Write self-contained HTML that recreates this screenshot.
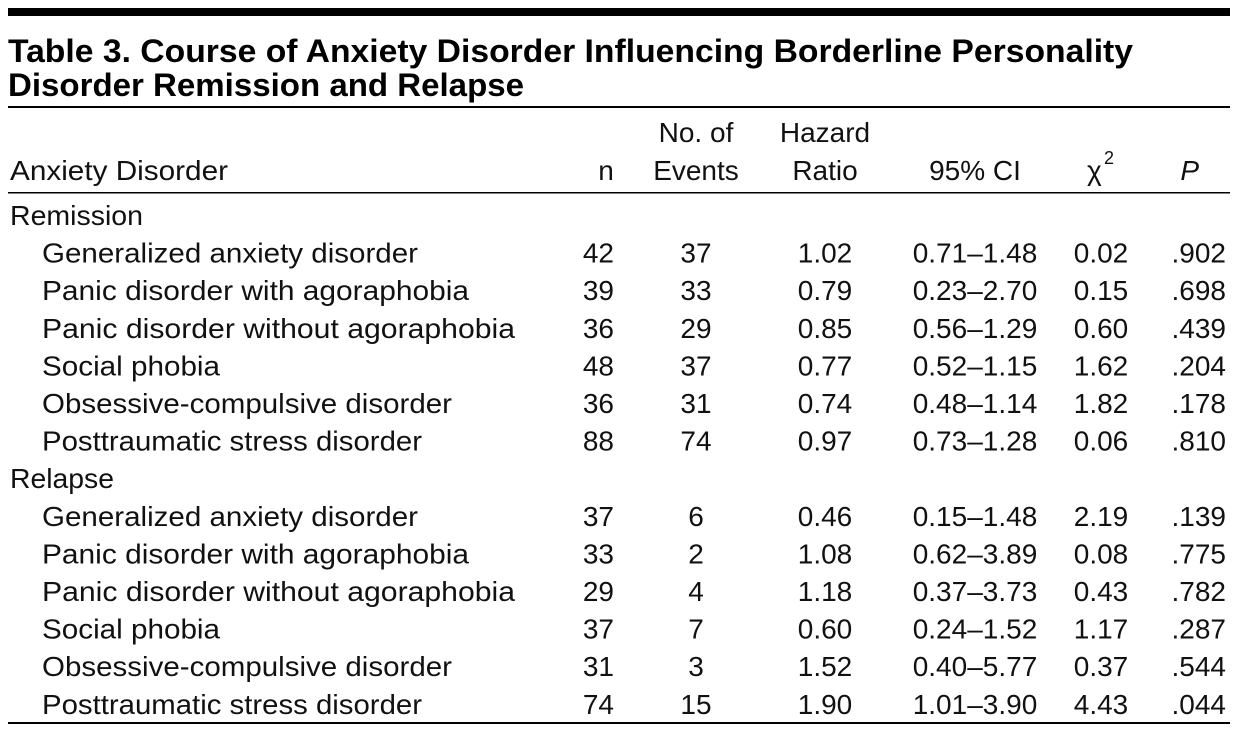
<!DOCTYPE html>
<html><head><meta charset="utf-8"><style>
html,body{margin:0;padding:0;background:#fff;}
svg{display:block;font-family:"Liberation Sans",Arial,sans-serif;}
</style></head><body>
<svg width="1237" height="735" viewBox="0 0 1237 735">
<rect x="8" y="8" width="1222" height="8" fill="#000"/>
<g font-weight="bold" font-size="32" fill="#000">
<text x="8" y="62" textLength="1125" lengthAdjust="spacingAndGlyphs">Table 3. Course of Anxiety Disorder Influencing Borderline Personality</text>
<text x="8" y="96" textLength="516" lengthAdjust="spacingAndGlyphs">Disorder Remission and Relapse</text>
</g>
<rect x="8" y="106" width="1222" height="2" fill="#000"/>
<g font-size="28" fill="#111">
<text x="10" y="180" textLength="218" lengthAdjust="spacingAndGlyphs">Anxiety Disorder</text>
<text x="606" y="180" text-anchor="middle">n</text>
<text x="696" y="142" text-anchor="middle">No. of</text>
<text x="696" y="180" text-anchor="middle">Events</text>
<text x="825" y="142" text-anchor="middle">Hazard</text>
<text x="825" y="180" text-anchor="middle">Ratio</text>
<text x="975" y="180" text-anchor="middle">95% CI</text>
<text x="1087" y="180">χ</text><text x="1104" y="164" font-size="18">2</text>
<text x="1199" y="180" text-anchor="end" font-style="italic">P</text>
</g>
<rect x="8" y="192" width="1222" height="1.5" fill="#000"/>
<g id="body" font-size="28" fill="#111"></g>
<rect x="8" y="722" width="1222" height="2" fill="#000"/>
</svg>
<script>
const rows=[
["Remission"],
["Generalized anxiety disorder","42","37","1.02","0.71–1.48","0.02",".902"],
["Panic disorder with agoraphobia","39","33","0.79","0.23–2.70","0.15",".698"],
["Panic disorder without agoraphobia","36","29","0.85","0.56–1.29","0.60",".439"],
["Social phobia","48","37","0.77","0.52–1.15","1.62",".204"],
["Obsessive-compulsive disorder","36","31","0.74","0.48–1.14","1.82",".178"],
["Posttraumatic stress disorder","88","74","0.97","0.73–1.28","0.06",".810"],
["Relapse"],
["Generalized anxiety disorder","37","6","0.46","0.15–1.48","2.19",".139"],
["Panic disorder with agoraphobia","33","2","1.08","0.62–3.89","0.08",".775"],
["Panic disorder without agoraphobia","29","4","1.18","0.37–3.73","0.43",".782"],
["Social phobia","37","7","0.60","0.24–1.52","1.17",".287"],
["Obsessive-compulsive disorder","31","3","1.52","0.40–5.77","0.37",".544"],
["Posttraumatic stress disorder","74","15","1.90","1.01–3.90","4.43",".044"]
];
const labelW={"Generalized anxiety disorder":376,"Panic disorder with agoraphobia":427,"Panic disorder without agoraphobia":473,"Social phobia":178,"Obsessive-compulsive disorder":410,"Posttraumatic stress disorder":380,"Remission":133,"Relapse":104};
const NS="http://www.w3.org/2000/svg";
const body=document.getElementById("body");
rows.forEach((r,i)=>{
  const y=225+i*37.6;
  const g=document.createElementNS(NS,"g");
  
  
  const cells=[[r[0],r.length===1?10:42,"start"],[r[1],614,"end"],[r[2],696,"middle"],[r[3],825,"middle"],[r[4],975,"middle"],[r[5],1101,"middle"],[r[6],1226,"end"]];
  cells.forEach((c,j)=>{
    if(c[0]===undefined)return;
    const t=document.createElementNS(NS,"text");
    
    
    t.setAttribute("x",c[1]);t.setAttribute("y",y);t.setAttribute("text-anchor",c[2]);
    if(j===0&&labelW[c[0]]){t.setAttribute("textLength",labelW[c[0]]);t.setAttribute("lengthAdjust","spacingAndGlyphs");}
    t.textContent=c[0];
    g.appendChild(t);
  });
  body.appendChild(g);
});
</script>
</body></html>
